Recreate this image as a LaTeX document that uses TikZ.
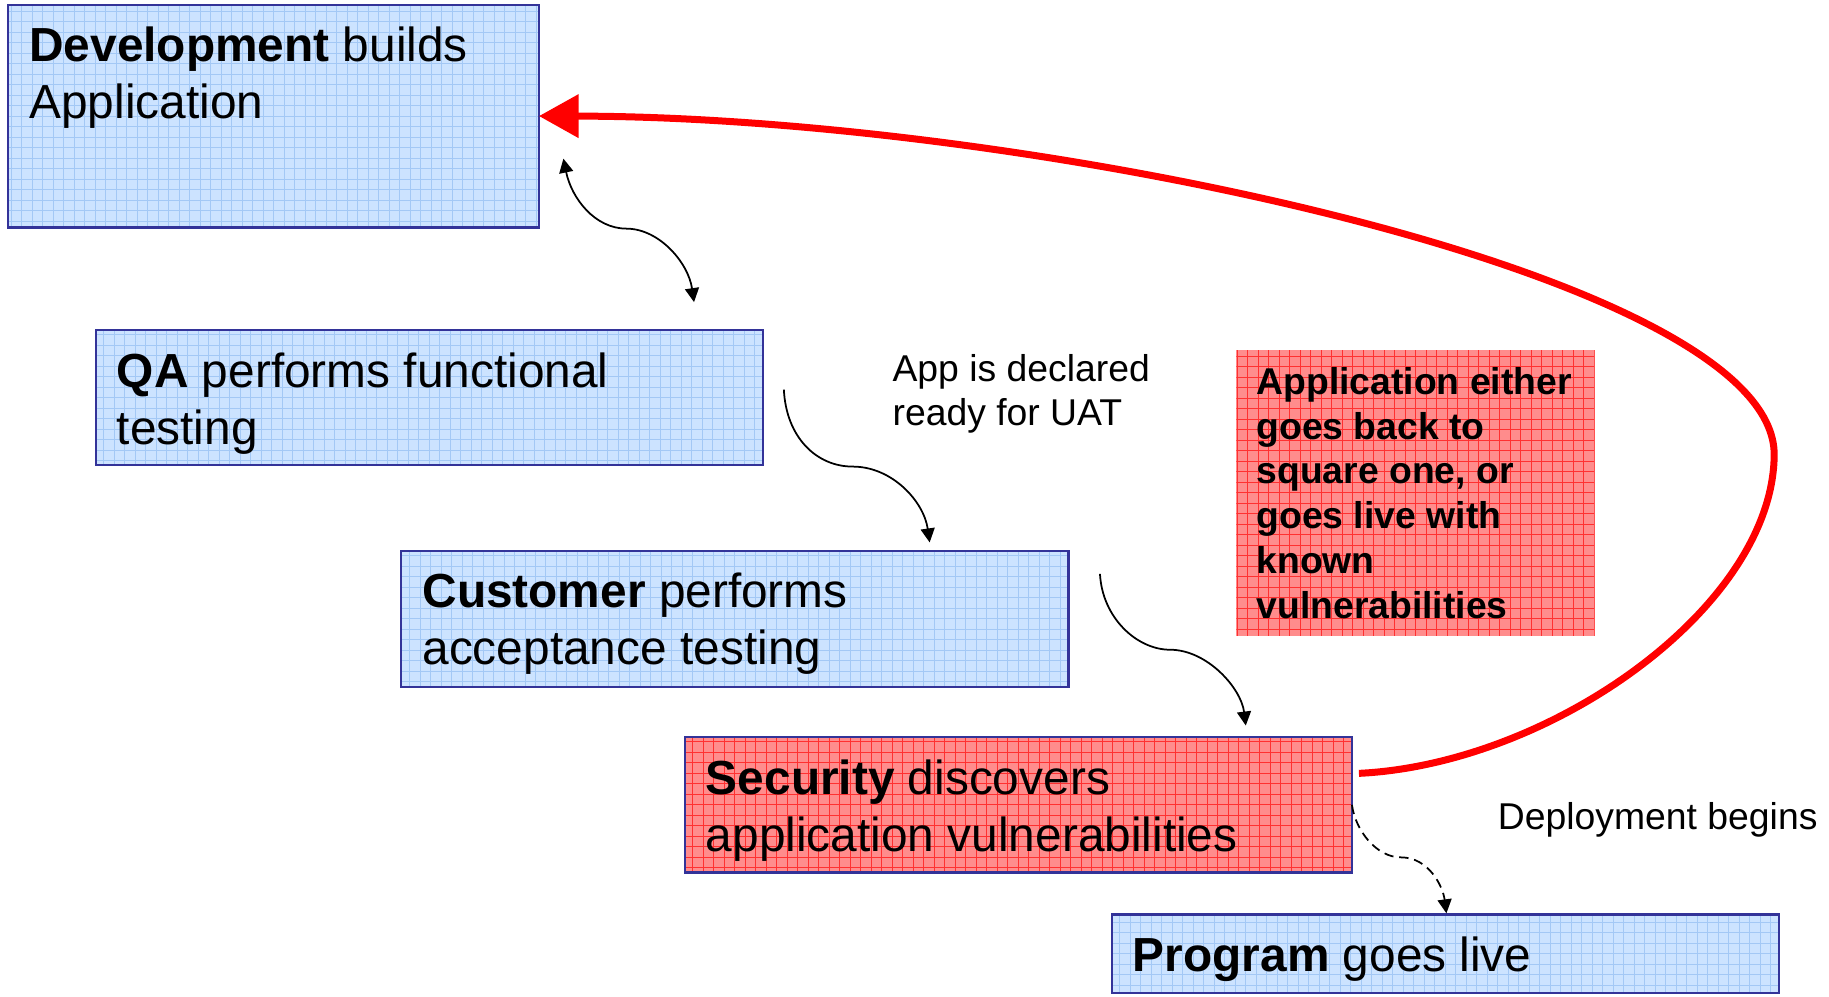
\documentclass[tikz,border=0pt]{standalone}
\usepackage{fontspec}
\setmainfont{Liberation Sans}
\usetikzlibrary{arrows.meta,calc}
\definecolor{bluefill}{HTML}{CCE3FF}
\definecolor{bluegrid}{HTML}{A3C8F5}
\definecolor{redfill}{HTML}{FF8C8C}
\definecolor{redgrid}{HTML}{FF3030}
\definecolor{boxborder}{HTML}{333399}
\begin{document}
\begin{tikzpicture}[x=1pt,y=-1pt,
  boxbase/.style={anchor=north west, inner sep=0pt, outer sep=0pt},
  bluebox/.style={boxbase, draw=boxborder, line width=1.8pt, fill=bluefill,
    path picture={\draw[bluegrid, line width=0.7pt, step=9pt]
      (path picture bounding box.south west) grid (path picture bounding box.north east);}},
  redbox/.style={boxbase, draw=boxborder, line width=1.8pt, fill=redfill,
    path picture={\draw[redgrid, line width=0.7pt, step=9pt]
      (path picture bounding box.south west) grid (path picture bounding box.north east);}},
  notebox/.style={boxbase, fill=redfill,
    path picture={\draw[redgrid, line width=0.7pt, step=9pt]
      (path picture bounding box.south west) grid (path picture bounding box.north east);}},
  boxtext/.style={anchor=base west, inner sep=0pt, font=\fontsize{41}{49}\selectfont},
  notetext/.style={anchor=base west, inner sep=0pt, font=\bfseries\fontsize{32}{38.4}\selectfont},
  labeltext/.style={anchor=base west, inner sep=0pt, font=\fontsize{32}{38}\selectfont},
  flow/.style={black, line width=1.5pt, -{Triangle[length=12pt,width=12pt]}},
  bothflow/.style={black, line width=1.5pt, {Triangle[length=12pt,width=12pt]}-{Triangle[length=12pt,width=12pt]}},
  dashflow/.style={black, line width=1.5pt, dash pattern=on 8pt off 5pt, -{Triangle[length=12pt,width=12pt]}},
  backflow/.style={red, line width=6pt, -{Triangle[length=34pt,width=36pt]}}
]
\useasboundingbox (0,0) rectangle (1568,854);

% boxes
\node[bluebox, minimum width=455pt, minimum height=191pt] (dev) at (7,4) {};
\node[bluebox, minimum width=572pt, minimum height=116pt] (qa) at (82,283) {};
\node[bluebox, minimum width=572pt, minimum height=117pt] (cust) at (344,472) {};
\node[redbox, minimum width=572pt, minimum height=116pt] (sec) at (587,632) {};
\node[bluebox, minimum width=572pt, minimum height=67pt] (prog) at (953,784) {};
\node[notebox, minimum width=307pt, minimum height=245pt] (note) at (1060,300) {};

% box texts
\node[boxtext] (devt) at (25,53) {\vtop{\hbox{\textbf{Development} builds}\hbox{Application}}};
\node[boxtext] (qat) at (100,332) {\vtop{\hbox{\textbf{QA} performs functional}\hbox{testing}}};
\node[boxtext] (custt) at (362,521) {\vtop{\hbox{\textbf{Customer} performs}\hbox{acceptance testing}}};
\node[boxtext] (sect) at (605,681) {\vtop{\hbox{\textbf{Security} discovers}\hbox{application vulnerabilities}}};
\node[boxtext] (progt) at (971,833) {\textbf{Program} goes live};
\node[notetext] (notet) at (1077,338) {\vtop{\hbox{Application either}\hbox{goes back to}\hbox{square one, or}\hbox{goes live with}\hbox{known}\hbox{vulnerabilities}}};

% labels
\node[labeltext] (uat) at (765,327) {\vtop{\hbox{App is declared}\hbox{ready for UAT}}};
\node[labeltext] (deploy) at (1284,711) {Deployment begins};

% connector end points
\coordinate (a1s) at (483,136);
\coordinate (a1m) at (537,196);
\coordinate (a1e) at (595,259);
\coordinate (a2s) at (672,334);
\coordinate (a2m) at (731,400);
\coordinate (a2e) at (797,465);
\coordinate (a3s) at (943,492);
\coordinate (a3m) at (1003,557);
\coordinate (a3e) at (1068,622);
\coordinate (a4s) at (sec.east);
\coordinate (a4m) at (1201,735);
\coordinate (a4e) at (1240,783);
\coordinate (rs) at ($(sec.east)+(6,-27)$);
\coordinate (rm) at (1521,390);

% connectors
\draw[bothflow] (a1s) .. controls (490,170) and (510,196) .. (a1m)
                      .. controls (565,196) and (590,225) .. (a1e);
\draw[flow] (a2s) .. controls (674,375) and (700,400) .. (a2m)
                  .. controls (765,400) and (792,430) .. (a2e);
\draw[flow] (a3s) .. controls (945,530) and (975,557) .. (a3m)
                  .. controls (1035,557) and (1064,590) .. (a3e);
\draw[dashflow] (a4s) .. controls (1162,712) and (1180,735) .. (a4m)
                      .. controls (1225,735) and (1237,760) .. (a4e);
\draw[backflow] (rs) .. controls (1330,655) and (1520,520) .. (rm)
                     .. controls (1522,235) and (880,100) .. (dev.east);
\end{tikzpicture}
\end{document}
